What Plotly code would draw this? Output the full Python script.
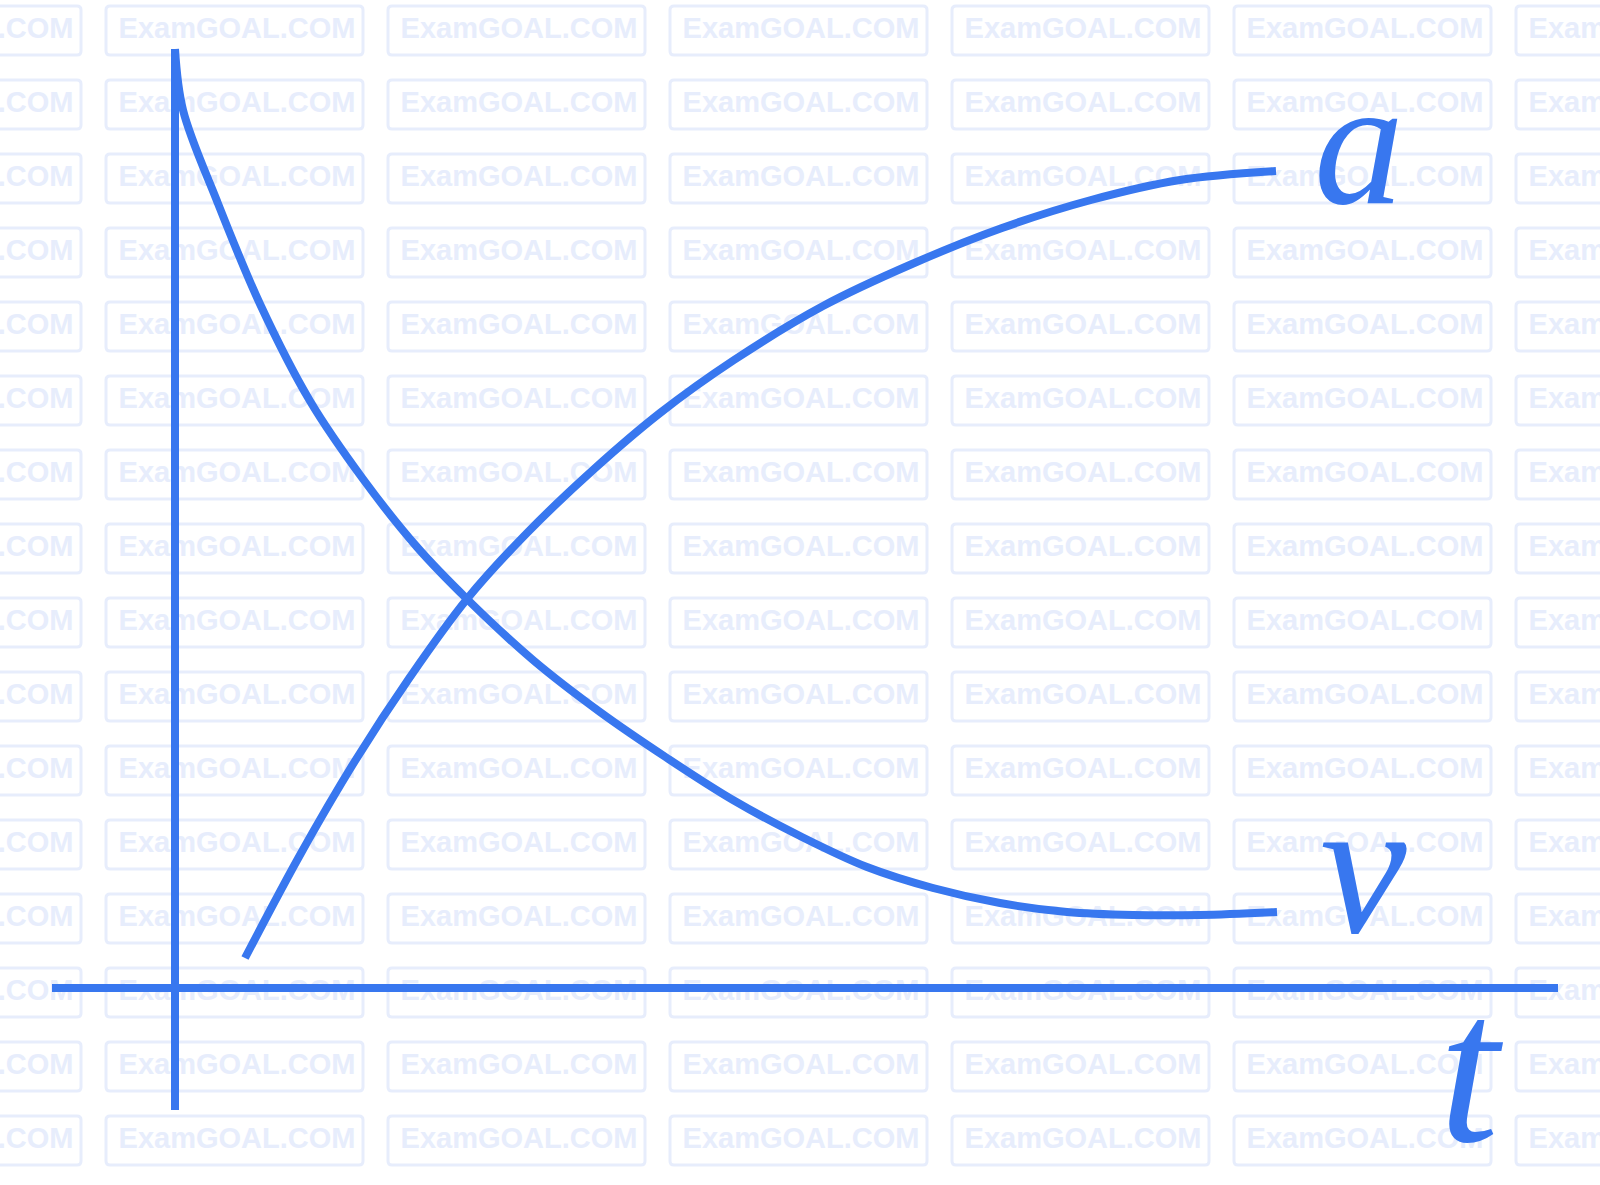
import plotly.graph_objects as go

# curve samples (t along the axis, value above the t axis)
v_t = [0, 8, 42, 85, 135, 188, 242, 293, 358, 425, 492, 558, 625, 692, 758, 825, 892, 958,
       1025, 1102]
v_val = [939, 878, 787, 684, 587, 509, 441, 388, 328, 276, 230, 188, 152, 121, 100, 85, 76, 73,
         73, 76]

a_t = [70, 125, 180, 235, 292, 352, 418, 485, 559, 648, 737, 827, 916, 1005, 1101]
a_val = [30, 133, 227, 311, 389, 455, 518, 575, 628, 682, 724, 760, 788, 808, 817]

# the two drawn axes
t_axis_t = [-123, 1383]
t_axis_val = [0, 0]
y_axis_t = [0, 0]
y_axis_val = [-122, 939]

labels = ["a", "v", "t"]
label_t = [1184, 1188, 1296]
label_val = [846, 122, -80]
label_size = [180, 195, 215]

BLUE = "#3877EF"
WM = "#E7EDFC"

# page pixel -> data units (origin of the drawn axes at pixel 175, 988)
OX, OY = 175, 988


def px(x, y):
    return x - OX, OY - y


fig = go.Figure()

# watermark grid
shapes = []
wm_x, wm_y = [], []
for j in range(16):
    top = 6 + 74 * j
    for k in range(-1, 6):
        left = 106 + 282 * k
        x0, y0 = px(left, top)
        x1, y1 = px(left + 257, top + 49)
        r = 4
        path = (f"M {x0 + r},{y0} L {x1 - r},{y0} Q {x1},{y0} {x1},{y0 - r} "
                f"L {x1},{y1 + r} Q {x1},{y1} {x1 - r},{y1} L {x0 + r},{y1} "
                f"Q {x0},{y1} {x0},{y1 + r} L {x0},{y0 - r} Q {x0},{y0} {x0 + r},{y0} Z")
        shapes.append(dict(type="path", path=path, xref="x", yref="y",
                           line=dict(color=WM, width=3), layer="below"))
        cx, cy = px(left + 131, top + 25)
        wm_x.append(cx)
        wm_y.append(cy)

fig.add_trace(go.Scatter(
    x=wm_x, y=wm_y, mode="text", text=["ExamGOAL.COM"] * len(wm_x),
    textfont=dict(family="Liberation Sans", size=29, color=WM, weight="bold"),
    hoverinfo="skip", showlegend=False
))

line = dict(color=BLUE, width=8)
fig.add_trace(go.Scatter(x=t_axis_t, y=t_axis_val, mode="lines", line=line, showlegend=False))
fig.add_trace(go.Scatter(x=y_axis_t, y=y_axis_val, mode="lines", line=line, showlegend=False))
fig.add_trace(go.Scatter(x=v_t, y=v_val, mode="lines",
                         line=dict(color=BLUE, width=8, shape="spline", smoothing=1),
                         name="v", showlegend=False))
fig.add_trace(go.Scatter(x=a_t, y=a_val, mode="lines",
                         line=dict(color=BLUE, width=8, shape="spline", smoothing=1),
                         name="a", showlegend=False))

for lab, lt, lv, ls in zip(labels, label_t, label_val, label_size):
    fig.add_annotation(x=lt, y=lv, text=lab, showarrow=False, xanchor="center", yanchor="middle",
                       font=dict(family="Liberation Serif", size=ls, color=BLUE, style="italic"))

fig.update_xaxes(range=[-OX, 1600 - OX], visible=False, fixedrange=True)
fig.update_yaxes(range=[OY - 1185, OY], visible=False, fixedrange=True)
fig.update_layout(
    width=1600, height=1185,
    margin=dict(l=0, r=0, t=0, b=0),
    paper_bgcolor="white", plot_bgcolor="white",
    shapes=shapes
)

fig.write_html("out.html", config={"displayModeBar": False},
               post_script="document.body.style.margin='0';")
